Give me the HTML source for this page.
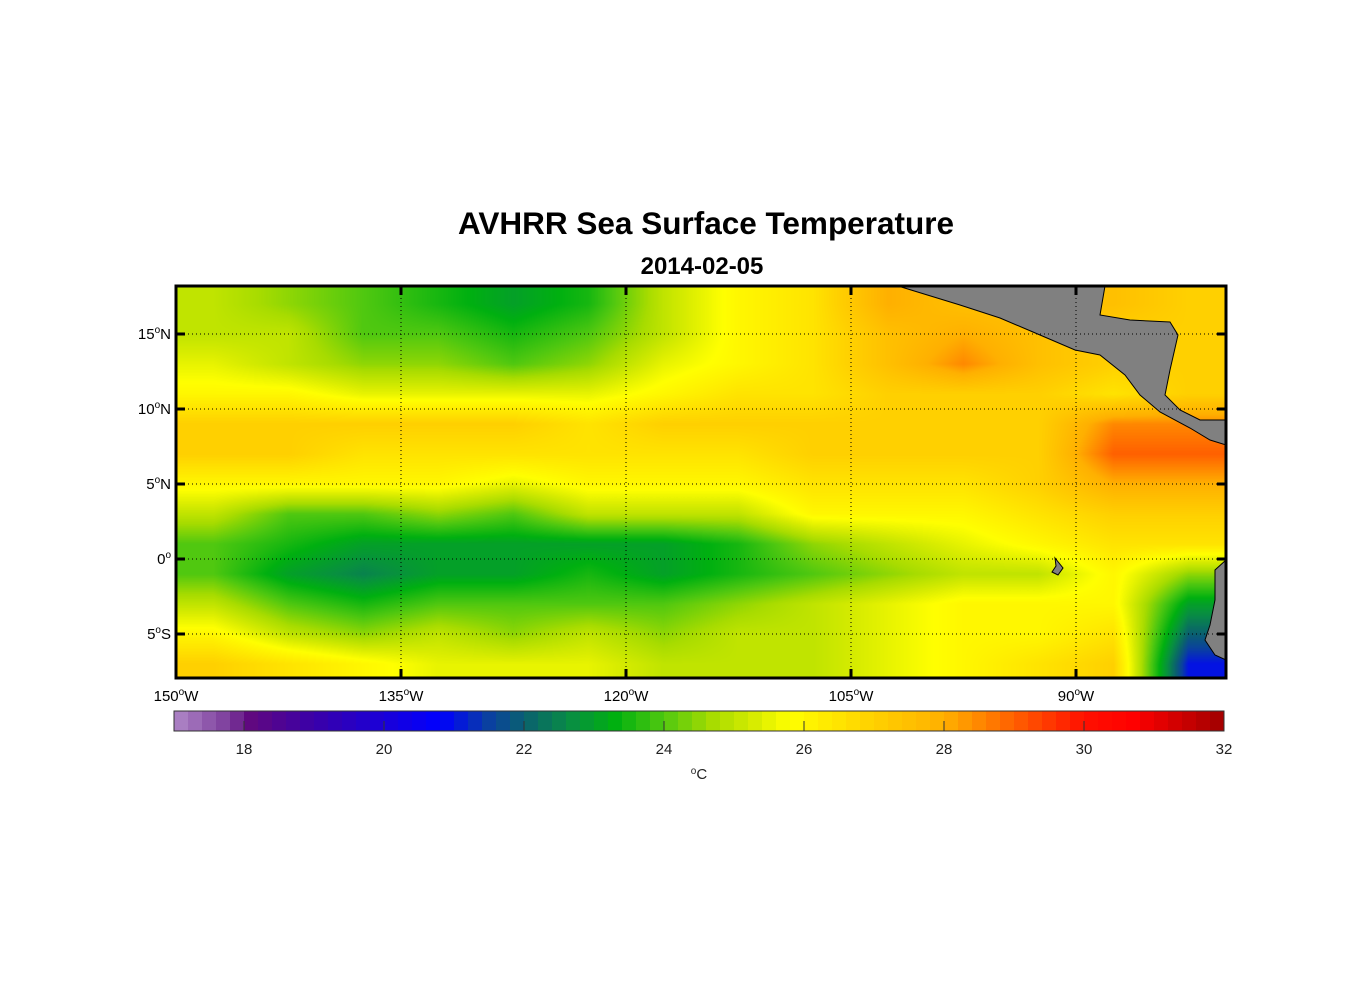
<!DOCTYPE html>
<html><head><meta charset="utf-8"><style>
body{margin:0;background:#fff;width:1356px;height:1000px;position:relative;font-family:"Liberation Sans",Arial,sans-serif;overflow:hidden}
.t{position:absolute;white-space:nowrap}
</style></head><body>
<div class="t" style="left:0;width:1412px;text-align:center;top:205px;font-size:31.5px;font-weight:bold">AVHRR Sea Surface Temperature</div>
<div class="t" style="left:0;width:1404px;text-align:center;top:253px;font-size:24px;font-weight:bold">2014-02-05</div>
<canvas id="map" width="1050" height="392" style="position:absolute;left:176px;top:286px"></canvas>
<svg id="ov" width="1356" height="1000" style="position:absolute;left:0;top:0"></svg>
<script>
const lonCenters=[-147.5,-142.5,-137.5,-132.5,-127.5,-122.5,-117.5,-112.5,-107.5,-102.5,-97.5,-92.5,-87.5,-82.5];
const latCenters=[17,15,13,11,9,7,5,3,1,-1,-3,-5,-7];
const sstRows=[
[25,24.5,24,23.5,23,23.5,25,26,26.5,28,27.5,27.5,27.5,27],
[25,25,24,24,23.5,24,25,26,26.5,27.5,28,27.5,27,27],
[25.5,25,24.5,24.5,24,24.5,25.5,26,26.5,27.5,28.5,27.5,27,27],
[26,26,25.5,25.5,25.5,25.5,26,26.5,26.5,27,27,27,26.5,27],
[27,27,27,27,27,26.5,27,27,27,27,27,27,28.5,28.5],
[27,27,26.5,26.5,26.5,26.5,26.5,26.5,27,27,27,27,29,29],
[26,26,26,26,25.5,26,26,26,26.5,26.5,26.5,27,28,28],
[25,24,24,24.5,24,25,25,25,26,26,26,26.5,27,27],
[24,23.5,23,23,23,23,23,23.5,24.5,25,25.5,26,26.5,26.5],
[24,23,22.5,23,23,23.5,23,23.5,24,24.5,25,25,26,24.5],
[25,24,23.5,24,24,24,24,24.5,25,25.5,26,26,26,23],
[26,25,24.5,25,24.5,25,24.5,25,25,25.5,26,26,26.5,22],
[27,26.5,26,25.5,25.5,25.5,25,25,25,25.5,26,26.5,27,21]];
const cbTicks=[18,20,22,24,26,28,30,32];
const lonTicks=[-150,-135,-120,-105,-90];
const latTicks=[15,10,5,0,-5];
const stops=[[17,[176,136,200]],[17.8,[122,58,154]],[18.1,[96,8,128]],[19,[58,0,168]],[20.8,[0,0,255]],[21.5,[10,64,160]],[22,[10,96,112]],[22.7,[8,144,64]],[23.3,[0,176,16]],[24,[80,200,16]],[24.7,[168,220,0]],[25.3,[216,236,0]],[25.8,[255,255,0]],[27,[255,208,0]],[28,[255,176,0]],[29,[255,96,0]],[30,[255,16,0]],[30.7,[255,0,0]],[32,[160,0,0]]];
function cmap(v){if(v<=stops[0][0])return stops[0][1];for(let i=1;i<stops.length;i++){if(v<=stops[i][0]){const a=stops[i-1],b=stops[i],f=(v-a[0])/(b[0]-a[0]);return a[1].map((c,k)=>Math.round(c+(b[1][k]-c)*f));}}return stops[stops.length-1][1];}
const X=lon=>176+(lon+150)*15, Y=lat=>559-lat*15;
const cv=document.getElementById('map'),ctx=cv.getContext('2d'),img=ctx.createImageData(1050,392);
for(let py=0;py<392;py++){const lat=(559-(286+py+0.5))/15;let fj=(latCenters[0]-lat)/2;fj=Math.max(0,Math.min(latCenters.length-1.001,fj));const j=Math.floor(fj),dj=fj-j;
for(let px=0;px<1050;px++){const lon=(px+0.5)/15-150;let fi=(lon-lonCenters[0])/5;fi=Math.max(0,Math.min(lonCenters.length-1.001,fi));const i=Math.floor(fi),di=fi-i;
const v=sstRows[j][i]*(1-di)*(1-dj)+sstRows[j][i+1]*di*(1-dj)+sstRows[j+1][i]*(1-di)*dj+sstRows[j+1][i+1]*di*dj;
const c=cmap(v);const o=(py*1050+px)*4;img.data[o]=c[0];img.data[o+1]=c[1];img.data[o+2]=c[2];img.data[o+3]=255;}}
ctx.putImageData(img,0,0);
const NS='http://www.w3.org/2000/svg',ov=document.getElementById('ov');
function mk(t,a,p){const e=document.createElementNS(NS,t);for(const k in a)e.setAttribute(k,a[k]);(p||ov).appendChild(e);return e;}
let e=mk('polygon',{points:'898,286 1105,286 1100,315 1130,320 1170,322 1178,335 1170,370 1165,395 1180,410 1200,420 1226,420 1226,445 1210,440 1190,428 1160,412 1140,395 1125,375 1100,355 1075,350 1040,335 1000,318 960,305',fill:'#808080',stroke:'#000','stroke-width':1});

e=mk('polygon',{points:'1226,560 1215,570 1215,600 1210,625 1205,640 1215,655 1226,660',fill:'#808080',stroke:'#000','stroke-width':1});

e=mk('polygon',{points:'1055,558 1063,568 1058,575 1052,572 1056,566',fill:'#808080',stroke:'#000','stroke-width':1});

lonTicks.forEach(l=>{const x=X(l);
e=mk('line',{x1:x,x2:x,y1:286,y2:678,stroke:'#000','stroke-width':1,'stroke-dasharray':'1,3'});

mk('line',{x1:x,x2:x,y1:286,y2:295,stroke:'#000','stroke-width':3});mk('line',{x1:x,x2:x,y1:669,y2:678,stroke:'#000','stroke-width':3});
e=mk('text',{x:x,y:701,'font-size':15,'text-anchor':'middle','font-family':'Liberation Sans'});
e.innerHTML=Math.abs(l)+'<tspan dy="-6" font-size="10">o</tspan><tspan dy="6">W</tspan>';
});
latTicks.forEach(l=>{const y=Y(l);
e=mk('line',{x1:176,x2:1226,y1:y,y2:y,stroke:'#000','stroke-width':1,'stroke-dasharray':'1,3'});

mk('line',{x1:176,x2:185,y1:y,y2:y,stroke:'#000','stroke-width':3});mk('line',{x1:1217,x2:1226,y1:y,y2:y,stroke:'#000','stroke-width':3});
e=mk('text',{x:171,y:y+5,'font-size':15,'text-anchor':'end','font-family':'Liberation Sans'});
e.innerHTML=Math.abs(l)+'<tspan dy="-6" font-size="10">o</tspan><tspan dy="6">'+(l>0?'N':l<0?'S':'')+'</tspan>';
});
e=mk('rect',{x:176,y:286,width:1050,height:392,fill:'none',stroke:'#000','stroke-width':3});

const CX=v=>174+(v-17)*70;
for(let k=0;k<75;k++){const v=17+k*0.2;const c=cmap(v+0.1);e=mk('rect',{x:CX(v),y:711,width:14.5,height:20,fill:'rgb('+c.join(',')+')'});
}
e=mk('rect',{x:174,y:711,width:1050,height:20,fill:'none',stroke:'#333','stroke-width':1});

cbTicks.forEach(v=>{const x=CX(v);mk('line',{x1:x,x2:x,y1:721,y2:731,stroke:'#333','stroke-width':1});
e=mk('text',{x:x,y:754,'font-size':15,'text-anchor':'middle',fill:'#222','font-family':'Liberation Sans'});e.textContent=v;
});
e=mk('text',{x:699,y:779,'font-size':15,'text-anchor':'middle',fill:'#222','font-family':'Liberation Sans'});
e.innerHTML='<tspan dy="-5" font-size="10">o</tspan><tspan dy="5">C</tspan>';

</script>
</body></html>
